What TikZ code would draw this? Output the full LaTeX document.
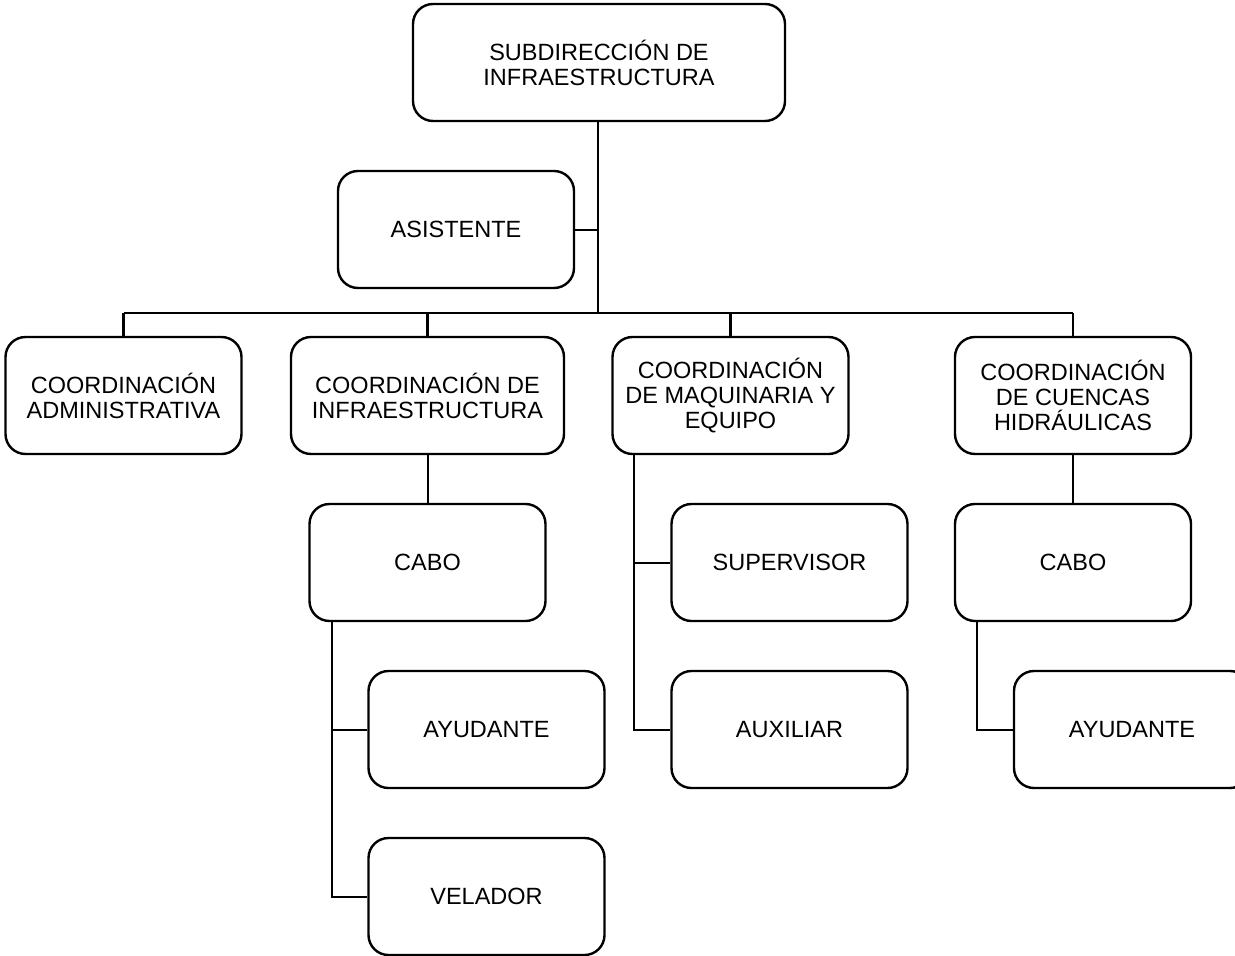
\documentclass[tikz,border=0pt]{standalone}
\usepackage{fontspec}
\setmainfont{Liberation Sans}
\usetikzlibrary{positioning, calc}

\begin{document}
\begin{tikzpicture}[
    x=1pt, y=-1pt,
    node distance=47.6pt and 47.6pt,
    unit/.style={rectangle, rounded corners=20pt, minimum width=236pt, minimum height=117pt, align=center, draw=black, line width=2.4pt, fill=white, font=\fontsize{23.5}{25}\selectfont, inner sep=2pt},
    trunk/.style={draw=black, line width=2.6pt},
    link/.style={draw=black, line width=2pt}
]
    \useasboundingbox (0,0) rectangle (1235,956);

    % top of the chart
    \node[unit, minimum width=372pt] (sub) at (599,62.5) {SUBDIRECCIÓN DE\\INFRAESTRUCTURA};
    \node[unit, below=of sub, xshift=-143pt] (asist) {ASISTENTE};

    % coordinations
    \node[unit] (admin) at (123.5,395.5) {COORDINACIÓN\\ADMINISTRATIVA};
    \node[unit, minimum width=273pt] (infra) at (427.5,395.5) {COORDINACIÓN DE\\INFRAESTRUCTURA};
    \node[unit] (maq) at (730.5,395.5) {COORDINACIÓN\\DE MAQUINARIA Y\\EQUIPO};
    \node[unit] (cuencas) at (1073,395.5) {COORDINACIÓN\\DE CUENCAS\\HIDRÁULICAS};

    % staff under each coordination
    \node[unit, below=of infra] (cabo1) {CABO};
    \node[unit, below=of cabo1, xshift=59pt] (ayud1) {AYUDANTE};
    \node[unit, below=of ayud1] (velador) {VELADOR};
    \node[unit, below=of maq, xshift=59pt] (superv) {SUPERVISOR};
    \node[unit, below=of superv] (auxil) {AUXILIAR};
    \node[unit, below=of cuencas] (cabo2) {CABO};
    \node[unit, below=of cabo2, xshift=59pt] (ayud2) {AYUDANTE};

    % Connectors
    \coordinate (bus) at (598,313);
    \draw[trunk] (sub.south -| bus) -- (bus);
    \draw[link] (asist.east) -- (asist.east -| bus);
    \draw[trunk] (admin.north |- bus) -- (cuencas.north |- bus);
    \foreach \n in {admin, infra, maq, cuencas}
        \draw[trunk] (\n.north) -- (\n.north |- bus);
    \draw[link] (infra) -- (cabo1);
    \draw[link] (cuencas) -- (cabo2);
    \draw[link] ([xshift=24pt]cabo1.south west) |- (velador.west);
    \draw[link] ([xshift=24pt]cabo1.south west) |- (ayud1.west);
    \draw[link] ([xshift=23pt]maq.south west) |- (auxil.west);
    \draw[link] ([xshift=23pt]maq.south west) |- (superv.west);
    \draw[link] ([xshift=23pt]cabo2.south west) |- (ayud2.west);
\end{tikzpicture}
\end{document}
